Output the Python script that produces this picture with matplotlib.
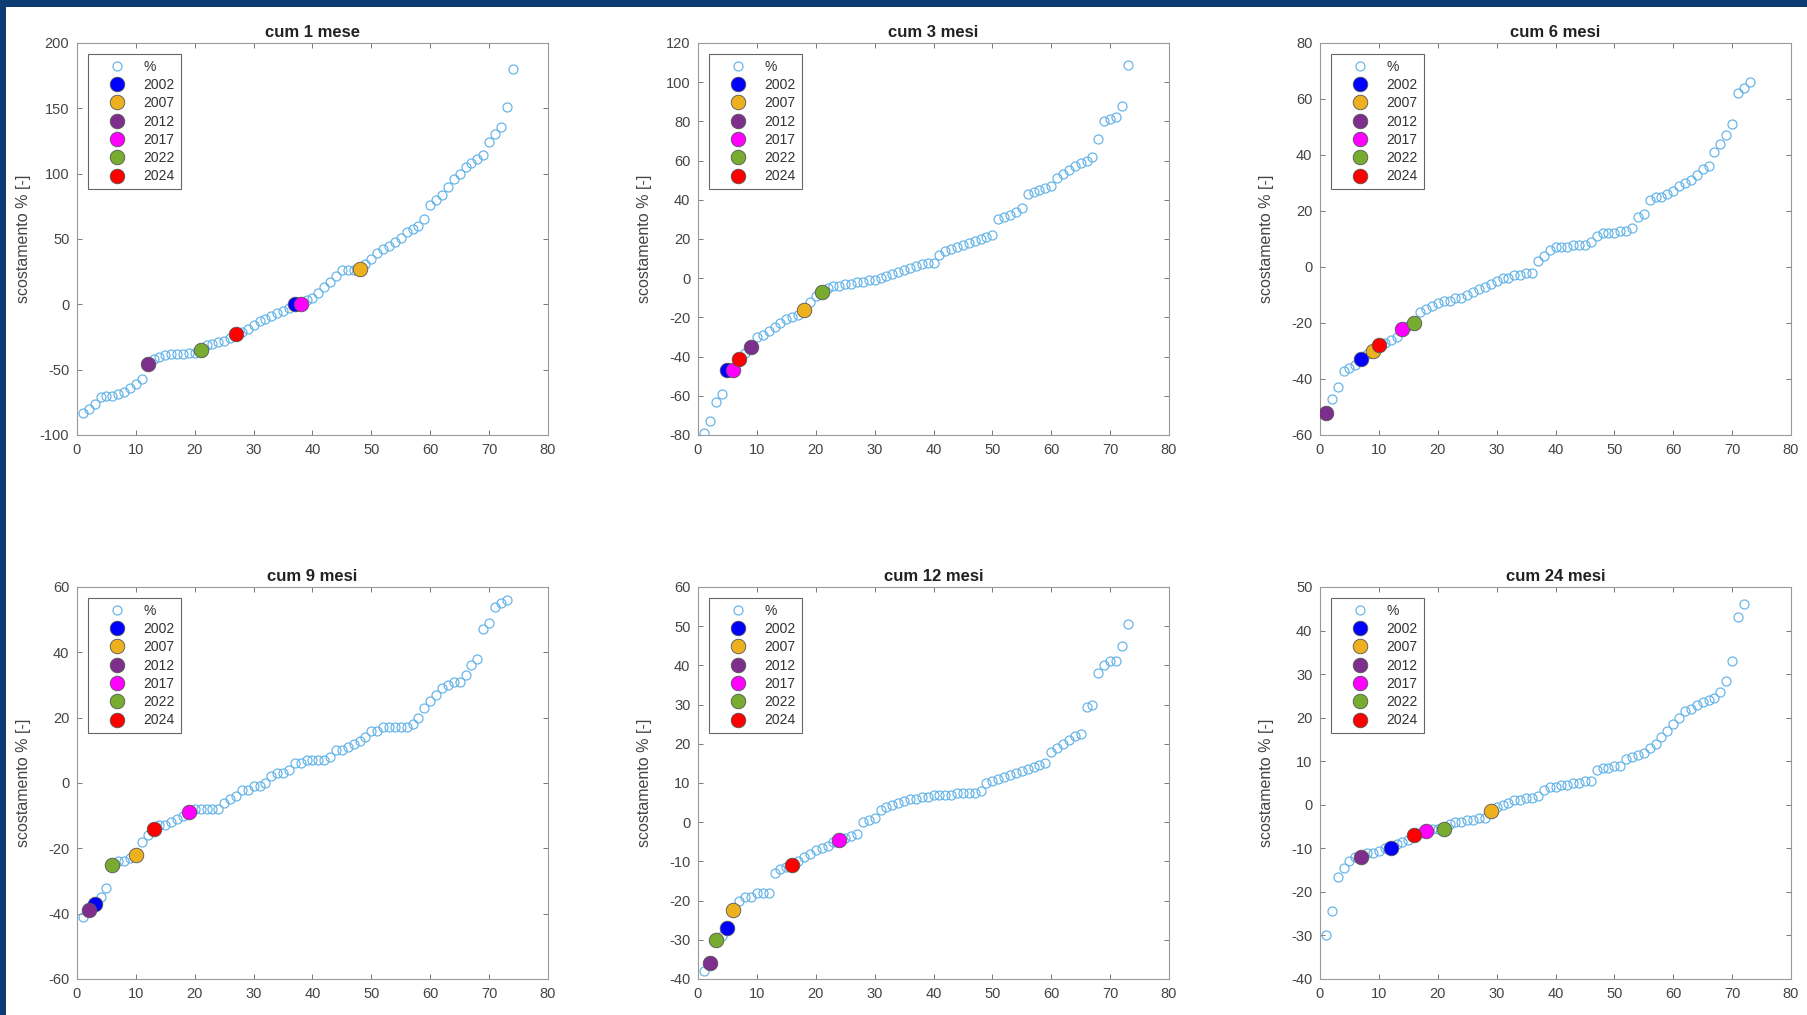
import numpy as np
import matplotlib
matplotlib.use('Agg')
import matplotlib.pyplot as plt
from matplotlib.patches import Rectangle

plt.rcParams['font.family'] = ['Liberation Sans', 'DejaVu Sans']
plt.rcParams['axes.unicode_minus'] = False

# sorted deviations (%) for each cumulation window, rank = 1..N
cum1 = [-83, -80, -76, -71, -70, -70, -69, -67, -64, -61, -57, -46, -42, -40, -39, -38,
        -38, -38, -37, -37, -35, -31, -30, -29, -28, -26, -23, -21, -19, -16, -13, -11,
        -9, -7, -5, -3, 0.5, 0.5, 3, 5, 9, 13, 17, 22, 26, 26, 26, 27, 31, 35, 39, 42,
        45, 48, 51, 55, 58, 60, 65, 76, 80, 84, 90, 96, 100, 105, 108, 111, 114, 124,
        130, 136, 151, 180]
cum3 = [-79, -73, -63, -59, -47, -47, -41, -38, -35, -30, -29, -27, -25, -23, -21, -20,
        -19, -16, -12, -9, -7, -5, -4, -4, -3, -3, -2, -2, -1, -1, 0, 1, 2, 3, 4, 5, 6,
        7, 8, 8, 12, 14, 15, 16, 17, 18, 19, 20, 21, 22, 30, 31, 32, 34, 36, 43, 44, 45,
        46, 47, 51, 53, 55, 57, 59, 60, 62, 71, 80, 81, 82, 88, 109]
cum6 = [-52, -47, -43, -37, -36, -35, -33, -31, -30, -28, -27, -26, -25, -22, -21, -20,
        -16, -15, -14, -13, -12, -12, -11, -11, -10, -9, -8, -7, -6, -5, -4, -4, -3, -3,
        -2, -2, 2, 4, 6, 7, 7, 7, 8, 8, 8, 9, 11, 12, 12, 12, 13, 13, 14, 18, 19, 24, 25,
        25, 26, 27, 29, 30, 31, 33, 35, 36, 41, 44, 47, 51, 62, 64, 66]
cum9 = [-41, -39, -37, -35, -32, -25, -24, -24, -23, -22, -18, -16, -14, -13, -13, -12,
        -11, -10, -9, -8, -8, -8, -8, -8, -6, -5, -4, -2, -2, -1, -1, 0, 2, 3, 3, 4, 6,
        6, 7, 7, 7, 7, 8, 10, 10, 11, 12, 13, 14, 16, 16, 17, 17, 17, 17, 17, 18, 20, 23,
        25, 27, 29, 30, 31, 31, 33, 36, 38, 47, 49, 54, 55, 56]
cum12 = [-38, -36, -30, -29, -27, -22.5, -20, -19, -19, -18, -18, -18, -13, -12, -11.5,
         -11, -10, -9, -8, -7, -6.5, -6, -5, -4.5, -4, -3.5, -3, 0, 0.5, 1, 3, 4, 4.5, 5,
         5.5, 6, 6, 6.5, 6.5, 7, 7, 7, 7, 7.5, 7.5, 7.5, 7.5, 8, 10, 10.5, 11, 11.5, 12,
         12.5, 13, 13.5, 14, 14.5, 15, 18, 19, 20, 21, 22, 22.5, 29.5, 30, 38, 40, 41, 41,
         45, 50.5]
cum24 = [-30, -24.5, -16.5, -14.5, -13, -12, -12, -11, -11, -10.5, -10, -10, -9, -8.5, -8,
         -7, -6.5, -6, -5.5, -5.5, -5.5, -4.5, -4, -4, -3.5, -3.5, -3, -3, -1.5, -0.5, 0,
         0.5, 1, 1, 1.5, 1.5, 2, 3.5, 4, 4, 4.5, 4.5, 5, 5, 5.5, 5.5, 8, 8.5, 8.5, 9, 9,
         10.5, 11, 11.5, 12, 13, 14, 15.5, 17, 18.5, 20, 21.5, 22, 23, 23.5, 24, 24.5, 26,
         28.5, 33, 43, 46]

titles = ['cum 1 mese', 'cum 3 mesi', 'cum 6 mesi', 'cum 9 mesi', 'cum 12 mesi', 'cum 24 mesi']
series = [cum1, cum3, cum6, cum9, cum12, cum24]

years = ['2002', '2007', '2012', '2017', '2022', '2024']
year_colors = ['#0000ff', '#edb120', '#7e2f8e', '#ff00ff', '#77ac30', '#ff0000']
# rank of each highlighted year inside every sorted series
year_ranks = [
    [37, 48, 12, 38, 21, 27],
    [5, 18, 9, 6, 21, 7],
    [7, 9, 1, 14, 16, 10],
    [3, 10, 2, 19, 6, 13],
    [5, 6, 2, 24, 3, 16],
    [12, 29, 7, 18, 21, 16],
]

ylims = [(-100, 200), (-80, 120), (-60, 80), (-60, 60), (-40, 60), (-40, 50)]
ysteps = [50, 20, 20, 20, 10, 10]

W, H = 1808, 1015
fig = plt.figure(figsize=(W / 100, H / 100), dpi=100)
fig.patch.set_facecolor('#0d3b73')
fig.add_artist(Rectangle((6 / W, 0), 1 - 6 / W, 1 - 7 / H, transform=fig.transFigure,
                         facecolor='white', edgecolor='none', zorder=-10))

lefts = [77, 698, 1320]
tops = [43, 587]
aw, ah = 471, 392

for i in range(6):
    r, c = divmod(i, 3)
    ax = fig.add_axes([lefts[c] / W, 1 - (tops[r] + ah) / H, aw / W, ah / H])
    y = np.array(series[i], dtype=float)
    x = np.arange(1, len(y) + 1)
    ax.plot(x, y, 'o', mfc='none', mec='#62b3e8', mew=0.85, ms=6.5, ls='none', label='%')
    for yr, col, rk in zip(years, year_colors, year_ranks[i]):
        ax.plot(x[rk - 1], y[rk - 1], 'o', mfc=col, mec='#555555', mew=0.6, ms=10.5,
                ls='none', label=yr, zorder=3)
    ax.set_xlim(0, 80)
    ax.set_ylim(*ylims[i])
    ax.set_xticks(np.arange(0, 81, 10))
    ax.set_yticks(np.arange(ylims[i][0], ylims[i][1] + 1, ysteps[i]))
    ax.tick_params(direction='in', length=3.5, width=0.7, color='#777777', labelsize=10.5,
                   labelcolor='#444444', top=True, right=True, pad=5.5)
    for s in ax.spines.values():
        s.set_color('#999999')
        s.set_linewidth(0.8)
    ax.set_title(titles[i], fontsize=12, fontweight='bold', color='#222222', pad=4)
    ax.set_ylabel('scostamento % [-]', fontsize=11.5, color='#444444')
    ax.yaxis.set_label_coords(-0.098, 0.5)
    leg = ax.legend(loc='upper left', fontsize=10, fancybox=False, framealpha=1,
                    edgecolor='#666666', borderaxespad=0.8, labelspacing=0.31,
                    handletextpad=0.2, borderpad=0.4, handlelength=3.4)
    leg.get_frame().set_linewidth(0.8)
    for t in leg.get_texts():
        t.set_color('#333333')

fig.savefig('out.png', dpi=100, facecolor=fig.get_facecolor())
